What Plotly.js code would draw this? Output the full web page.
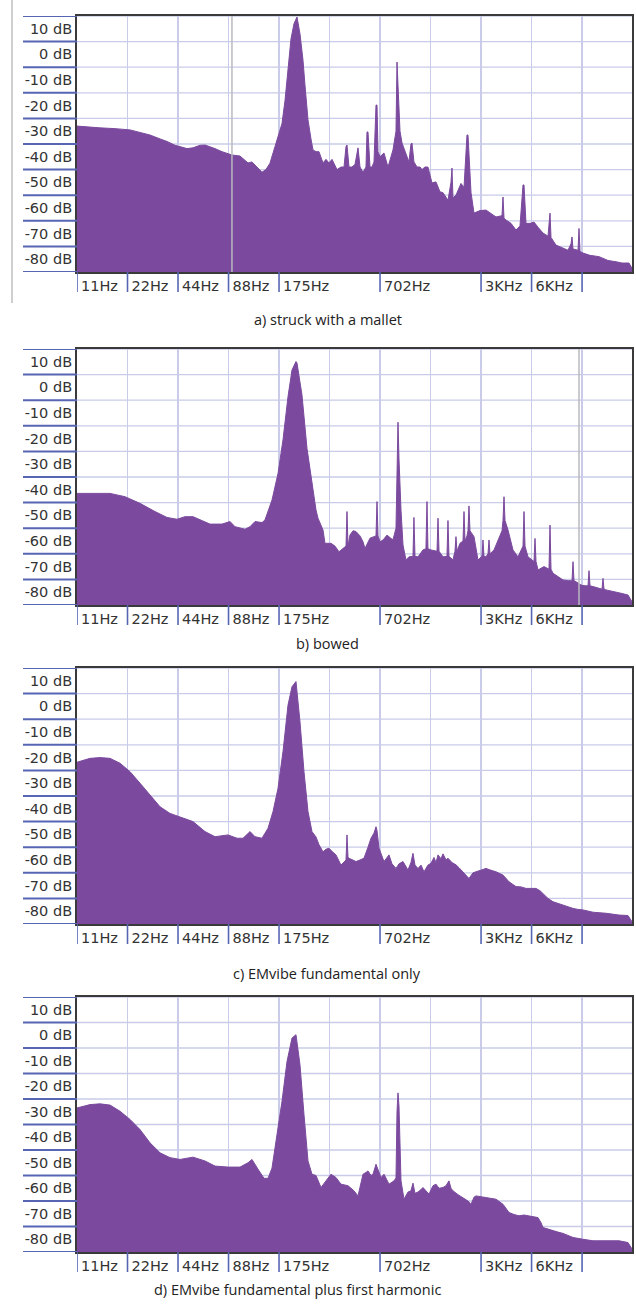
<!DOCTYPE html>
<html>
<head>
<meta charset="utf-8">
<script src="https://cdn.plot.ly/plotly-3.0.1.min.js"></script>
<style>
html,body{margin:0;padding:0;background:#fff;}
#chart{width:636px;height:1305px;}
</style>
</head>
<body>
<div id="chart"></div>
<script>
// ---------- axis values ----------
const FREQ_RANGE = [10.97, 22284];
const DB_RANGE = [-85, 15];
const FREQ_GRID = [10.97, 21.94, 43.88, 87.75, 175.5, 351, 702, 1404, 2808, 5616, 11232];
const FREQ_GRID_TEXT = ['11Hz', '22Hz', '44Hz', '88Hz', '175Hz', '', '702Hz', '', '3KHz', '6KHz', ''];
const FREQ_TICK_MARKS = [10.97, 21.94, 43.88, 87.75, 175.5, 702, 2808, 5616, 11232];
const DB_TICKS = [10, 0, -10, -20, -30, -40, -50, -60, -70, -80];
const DB_TICK_TEXT = ['10 dB', '0 dB', '-10 dB', '-20 dB', '-30 dB', '-40 dB', '-50 dB', '-60 dB', '-70 dB', '-80 dB'];
const DB_GRID = [15, 5, -5, -15, -25, -35, -45, -55, -65, -75, -85];
const FLOOR_DB = -90;

const CAPTIONS = ['a) struck with a mallet', 'b) bowed', 'c) EMvibe fundamental only', 'd) EMvibe fundamental plus first harmonic'];
const CURSOR_HZ = [92.0, 10768, null, null];

// ---------- a) struck with a mallet ----------
const FREQ_A = [10.97,13.11,15.05,18.49,22.71,26.05,29.88,34.28,37.73,42.11,45.10,49.64,53.9,59.33,63.55,68.06,72.9,80.25,92.05,102.7,110.0,114.7,121.1,129.7,138.9,146.7,155.0,166.1,175.4,182.8,190.5,198.5,206.8,215.5,224.6,234.0,243.8,250.6,261.2,272.1,279.7,291.5,303.7,320.9,334.4,348.4,363.1,388.8,410.7,428.1,440.0,446.0,458.4,477.7,497.8,518.8,533.2,555.6,578.9,586.9,595.0,611.5,628.6,646.1,664.1,673.3,682.6,701.6,741.1,783.0,815.9,838.5,873.7,885.9,898.1,923.1,948.8,988.6,1016,1044,1073,1088,1118,1166,1215,1248,1300,1355,1432,1513,1598,1666,1783,1858,1884,1910,1990,2132,2222,2315,2347,2412,2446,2549,2768,3004,3218,3447,3743,3795,3847,3954,4235,4535,4791,4993,5062,5203,5497,5807,6135,6570,7037,7233,7332,7853,8528,9259,9648,9782,9917,10622,10768,10917,11376,12523,14169,16031,17891,19427,21384,22284];
const DB_A = [-28,-28.5,-28.7,-29,-29.5,-30.5,-31.5,-33,-34,-35.5,-36,-36.8,-36.5,-35.5,-35.4,-36,-36.8,-38,-39.3,-39.7,-41.5,-42.4,-42,-44,-46,-45,-42.5,-36,-31,-27,-18,-5,6,12,14.6,8,-2.2,-12,-25.6,-33,-37.3,-38,-38,-42.4,-41,-42.4,-41,-45,-44,-44,-36,-35.4,-44,-44,-43,-36.5,-44,-46,-44,-30.3,-30.3,-44,-44,-42,-19.8,-19.8,-38,-40,-38.5,-44,-40,-37.3,-30,-3,-12,-30,-34.6,-38,-40,-42,-35,-34.6,-42,-44,-44,-45,-44,-44,-50.2,-49.8,-53.7,-54,-57,-50,-44.4,-56,-55,-50.4,-52,-31.5,-31.5,-50,-54,-62,-61,-60.8,-62,-63.5,-63,-55.7,-64,-64.7,-66,-68.6,-67,-51,-51,-66,-66,-65.5,-67.5,-69.8,-71,-62,-71.5,-74.5,-75.5,-76.5,-74,-71.3,-76,-76.5,-68,-77,-77.6,-78.5,-79,-80.5,-81,-81.5,-81.5,-83.5];

// ---------- b) bowed ----------
const FREQ_B = [10.97,17.26,21.20,26.05,32.0,37.73,43.28,48.3,53.9,59.33,68.06,80.25,89.56,95.92,110.0,117.9,126.2,138.9,144.7,159.4,173.1,185.3,198.5,209.7,221.5,224.6,240.5,257.6,275.9,291.5,299.6,320.9,329.8,358.1,378.3,399.6,440.0,446.0,452.2,464.7,484.3,504.6,533.2,555.6,571.0,611.5,664.1,673.3,682.6,701.6,731.1,772.3,815.9,838.5,873.7,885.9,898.1,910.5,923.1,935.9,961.9,1002,1044,1103,1118,1134,1182,1265,1318,1337,1355,1412,1534,1555,1577,1666,1759,1783,1808,1910,1963,1990,2018,2103,2192,2222,2253,2315,2347,2379,2412,2549,2693,2844,2883,2923,3004,3088,3131,3174,3354,3592,3743,3795,3847,3900,4064,4352,4661,4993,5062,5132,5348,5807,5887,5969,6135,6661,7134,7233,7332,7537,8072,8646,9259,9782,9917,10054,10334,11068,11692,12184,12352,12523,13050,13976,14765,14969,15176,15598,17891,19427,21093,22284];
const DB_B = [-41.4,-41.4,-42.7,-45.3,-48.5,-50.8,-51.5,-50.5,-50.5,-51.8,-53.4,-53.4,-52.4,-54.4,-55.4,-54.4,-52.4,-52.8,-51.8,-44,-33.6,-20.5,-3.6,6.8,10.1,9.5,-3,-23.8,-38.1,-47.9,-51.1,-55.7,-60.9,-60.9,-62,-64.2,-62,-48.5,-62,-57.7,-56,-56.3,-58,-60.3,-62.9,-58.9,-58,-44.6,-58,-60.3,-59.6,-57.7,-59,-59.5,-55,-30,-13.6,-28,-42,-48,-61.6,-67.4,-66.2,-66,-50.8,-66,-66.2,-63.5,-63,-44.6,-63,-63.5,-64,-51.1,-64,-66.2,-66,-52,-66,-67.4,-64,-58.3,-64,-60.9,-60,-48.5,-60,-58,-56,-46.3,-56,-58.3,-67.4,-66,-59.6,-66,-66.2,-65,-59.6,-65,-63.5,-58.3,-56,-52,-42.7,-52,-55.7,-63.5,-66.2,-62,-48.5,-62,-66.2,-68,-59,-68,-71.3,-70,-71,-53.8,-71,-72.6,-74,-75.2,-75.5,-75.5,-68.1,-75.5,-75.9,-77.2,-77.5,-77.5,-71.6,-77.5,-77.8,-78.5,-78.8,-74.6,-78.8,-79.1,-79.8,-80.5,-81.1,-83.7];

// ---------- c) EMvibe fundamental only ----------
const FREQ_C = [10.97,13.11,15.05,17.26,19.80,22.71,26.05,29.88,34.28,39.31,45.10,53.9,63.55,72.9,87.14,98.59,107.1,117.9,126.2,138.9,150.9,161.6,173.1,185.3,198.5,209.7,221.5,234.0,247.2,261.2,275.9,291.5,303.7,320.9,334.4,348.4,368.1,383.6,410.7,428.1,440.0,446.0,452.2,458.4,477.7,504.6,533.2,563.2,595.0,620.0,646.1,664.1,673.3,692.0,741.1,793.8,827.1,873.7,910.5,961.9,1030,1073,1103,1134,1182,1232,1283,1355,1412,1472,1513,1555,1620,1666,1736,1783,1884,1990,2074,2192,2379,2514,2620,2768,3004,3218,3447,3795,4120,4535,4857,5203,5572,5969,6305,6661,7037,7537,8072,8646,9259,9917,10622,11376,13050,15598,18643,21093,22284];
const DB_C = [-21.8,-20.3,-20,-20.3,-22.2,-25.5,-30,-34.6,-39.2,-41.8,-43.1,-45,-48.9,-50.9,-50.2,-51.5,-51.5,-48.9,-50.9,-51.5,-47.6,-41.1,-32,-17.7,0.5,7.7,9.7,-6,-25.5,-41.1,-48.9,-51,-54,-56.8,-55.8,-55.4,-57,-58,-62,-61,-60,-50.2,-59,-59.3,-60,-60.6,-60,-59.3,-55,-51.5,-49.5,-47,-48.5,-55.4,-60.6,-58,-61.5,-63.3,-61.5,-60.6,-63.9,-61,-57.4,-62,-63.3,-62,-64.6,-62,-61.3,-59,-61,-58,-59.5,-57.6,-60,-59.3,-61,-61.9,-63,-64.6,-67.2,-65,-64.6,-64,-63.3,-64,-64.6,-65.9,-68.5,-70.4,-70.5,-71.1,-71,-71.1,-72,-73.7,-75,-76.3,-77,-77.6,-78.3,-78.9,-79.3,-79.5,-80.4,-80.8,-81.5,-81.7,-84.1];

// ---------- d) EMvibe fundamental plus first harmonic ----------
const FREQ_D = [10.97,13.11,15.05,17.26,19.80,22.71,26.05,29.88,34.28,39.31,45.10,53.9,63.55,72.9,87.14,102.7,114.7,121.1,131.5,142.8,150.9,159.4,170.7,182.8,195.8,209.7,221.5,234.0,247.2,261.2,275.9,291.5,312.2,334.4,358.1,383.6,410.7,452.2,491.0,518.8,540.6,555.6,578.9,595.0,620.0,637.3,664.1,682.6,711.3,741.1,793.8,850.1,873.7,885.9,898.1,910.5,923.1,935.9,975.2,1030,1073,1103,1134,1182,1232,1265,1318,1374,1452,1513,1577,1666,1736,1808,1858,1910,2046,2192,2347,2446,2549,2620,2806,3004,3218,3447,3795,4120,4412,4726,5062,5422,5807,6135,6392,6570,7037,7537,8072,8646,9259,9917,11376,13050,15598,18643,21093,22284];
const DB_D = [-28.5,-27.2,-26.9,-27.4,-29.8,-33,-37,-42.2,-46.1,-48,-48.7,-47.8,-49.3,-51.3,-51.7,-51.7,-50,-48.7,-52.5,-56.1,-56.1,-52.1,-38.9,-25.9,-10.3,-1.1,0.2,-11.6,-31.1,-49.3,-54.5,-55,-59.7,-57.1,-54.5,-55.8,-58.4,-59,-61,-63,-57,-54.5,-53.8,-53.2,-55,-54.5,-50.6,-53,-55.8,-54.5,-58.4,-57.1,-56,-30,-22.6,-27.8,-50,-57.1,-64.3,-61.5,-61,-58,-62,-61.5,-60.5,-59.7,-61,-62.3,-59,-58.4,-60,-59.7,-59,-57.1,-60,-61,-62.5,-63.6,-65,-66.3,-63.5,-63,-63.3,-63.6,-64,-64.3,-66.3,-69.5,-70.3,-70.8,-70.5,-70.8,-71,-71.5,-73.5,-75.4,-76,-76.7,-77.2,-77.7,-78.5,-79.3,-80,-80.6,-80.6,-80.6,-81.3,-83.8];

const SERIES = [[FREQ_A, DB_A], [FREQ_B, DB_B], [FREQ_C, DB_C], [FREQ_D, DB_D]];

// ---------- styling / layout constants ----------
const W = 636, H = 1305;
const PURPLE = '#7b4a9e';
const GRID = '#c9cbe8';
const TICKBLUE = '#5766b3';
const FRAME = '#3a3a3a';
const TEXT = '#333333';
const X_DOMAIN = [77 / W, 632 / W];
const PANEL_PX = [[16, 272], [349, 605], [668, 924], [997, 1252]]; // top,bottom in px
const CAPTION_PX = [[328, 320], [327, 643], [327, 973], [297, 1289]];
const LABEL_AREA_LEFT = 23 / W;

const data = [];
const shapes = [];
const annotations = [];
const layout = {
  width: W, height: H,
  margin: {l: 0, r: 0, t: 0, b: 0},
  paper_bgcolor: '#ffffff',
  plot_bgcolor: '#ffffff',
  showlegend: false,
  shapes: shapes,
  annotations: annotations
};

const py = (px) => 1 - px / H;

SERIES.forEach((s, i) => {
  const n = i === 0 ? '' : String(i + 1);
  const xa = 'x' + n, ya = 'y' + n;
  const [topPx, botPx] = PANEL_PX[i];
  // floor trace for the fill
  data.push({
    x: [FREQ_RANGE[0], FREQ_RANGE[1]], y: [FLOOR_DB, FLOOR_DB],
    xaxis: xa, yaxis: ya, mode: 'lines', line: {width: 0, color: PURPLE},
    hoverinfo: 'skip'
  });
  data.push({
    x: s[0], y: s[1], xaxis: xa, yaxis: ya, mode: 'lines',
    line: {width: 1, color: PURPLE}, fill: 'tonexty', fillcolor: PURPLE
  });

  layout['xaxis' + n] = {
    type: 'log', domain: X_DOMAIN, anchor: ya,
    range: [Math.log10(FREQ_RANGE[0]), Math.log10(FREQ_RANGE[1])],
    tickmode: 'array', tickvals: FREQ_GRID, ticktext: FREQ_GRID_TEXT,
    ticks: '', showgrid: true, gridcolor: GRID, gridwidth: 1.3,
    showline: true, linecolor: FRAME, linewidth: 2, mirror: true,
    ticklabelposition: 'outside right', ticklabelshift: 3,
    tickfont: {family: 'DejaVu Sans', size: 14.5, color: TEXT},
    zeroline: false, fixedrange: true
  };
  layout['yaxis' + n] = {
    domain: [py(botPx), py(topPx)], anchor: xa,
    range: DB_RANGE,
    tickmode: 'array', tickvals: DB_TICKS, ticktext: DB_TICK_TEXT,
    ticks: '', showgrid: false, zeroline: false,
    showline: true, linecolor: FRAME, linewidth: 2, mirror: true,
    ticklabelstandoff: 0,
    tickfont: {family: 'DejaVu Sans', size: 14.5, color: TEXT},
    fixedrange: true
  };

  // horizontal grid lines (inside) and their extensions in the label column
  DB_GRID.forEach((v) => {
    shapes.push({type: 'line', xref: 'paper', yref: ya, x0: X_DOMAIN[0], x1: X_DOMAIN[1], y0: v, y1: v,
      line: {color: GRID, width: 1.3}, layer: 'below'});
    shapes.push({type: 'line', xref: 'paper', yref: ya, x0: LABEL_AREA_LEFT, x1: X_DOMAIN[0], y0: v, y1: v,
      line: {color: TICKBLUE, width: 2}, layer: 'above'});
  });
  // x tick marks under the axis
  FREQ_TICK_MARKS.forEach((f) => {
    shapes.push({type: 'line', xref: xa, yref: 'paper', x0: f, x1: f, y0: py(botPx), y1: py(botPx + 20),
      line: {color: TICKBLUE, width: 1.6}, layer: 'above'});
  });
  // cursor line
  if (CURSOR_HZ[i] !== null) {
    shapes.push({type: 'line', xref: xa, yref: 'paper', x0: CURSOR_HZ[i], x1: CURSOR_HZ[i], y0: py(botPx), y1: py(topPx),
      line: {color: '#b9b9bf', width: 1.5}, layer: 'above'});
  }
  annotations.push({
    text: CAPTIONS[i], xref: 'paper', yref: 'paper',
    x: CAPTION_PX[i][0] / W, y: py(CAPTION_PX[i][1]), xanchor: 'center', yanchor: 'middle',
    showarrow: false, font: {family: 'Open Sans', size: 14.5, color: '#222222'}
  });
});

// page edge line at the left of the first panel
shapes.push({type: 'line', xref: 'paper', yref: 'paper', x0: 12 / W, x1: 12 / W, y0: 1, y1: py(303),
  line: {color: '#cfcfcf', width: 2}});

Plotly.newPlot('chart', data, layout, {staticPlot: true, displayModeBar: false});
</script>
</body>
</html>
